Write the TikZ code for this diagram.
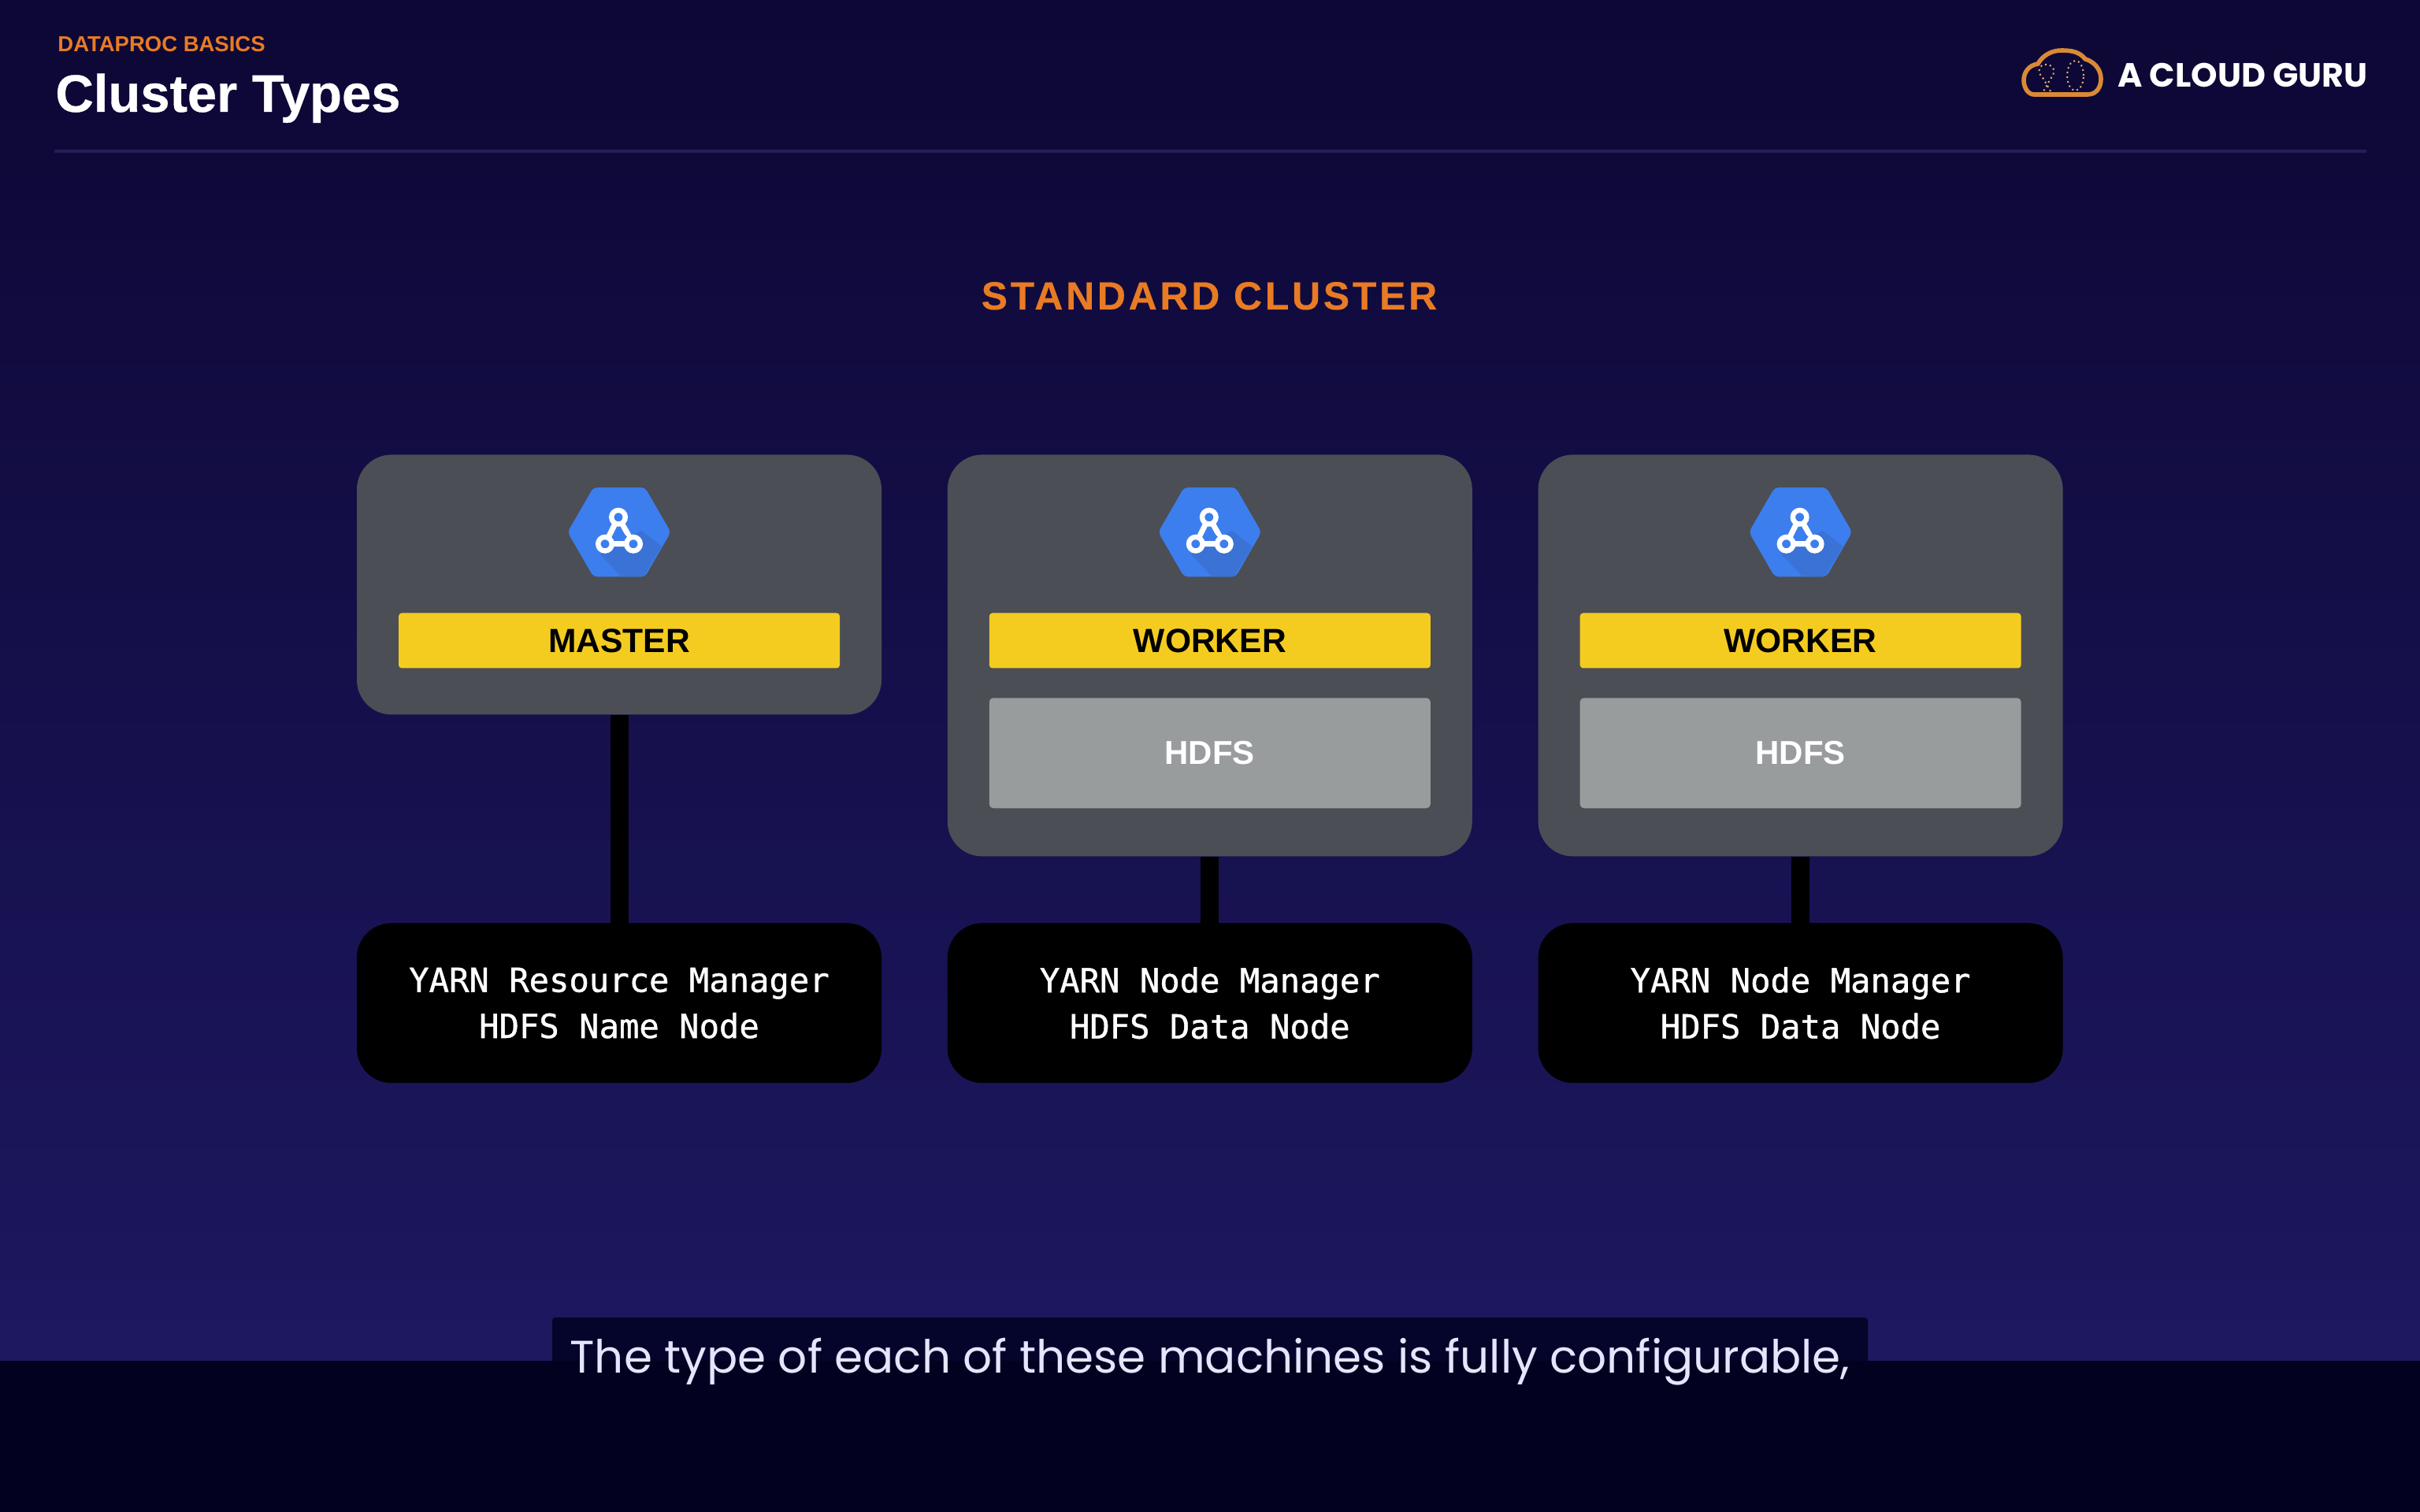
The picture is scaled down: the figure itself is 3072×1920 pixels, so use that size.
\documentclass[tikz,border=0pt]{standalone}
\usepackage{fontspec}
\usepackage{tikz}
\usetikzlibrary{positioning}
\usetikzlibrary{shapes.geometric}
\setmainfont{Liberation Sans}
\newfontfamily\monofont[FakeBold=1]{DejaVu Sans Mono}
\newfontfamily\spacedfont[LetterSpace=7.4,BoldFeatures={FakeBold=0.3}]{Liberation Sans}
\newfontfamily\titlefont[BoldFeatures={FakeBold=0.5}]{Liberation Sans}
\newfontfamily\logofont{Poppins}
\newfontfamily\capfont{Poppins}
\definecolor{bgtop}{HTML}{0D0735}
\definecolor{bgbot}{HTML}{1D1860}
\definecolor{rulecol}{HTML}{231E54}
\definecolor{stripcol}{HTML}{02011F}
\definecolor{barcol}{HTML}{05042A}
\definecolor{orangecol}{HTML}{E87B24}
\definecolor{logocol}{HTML}{D98A35}
\definecolor{cardcol}{HTML}{4B4E55}
\definecolor{yellowcol}{HTML}{F4CC20}
\definecolor{hdfscol}{HTML}{989C9C}
\definecolor{hexcol}{HTML}{3C7EEE}
\definecolor{hexdark}{HTML}{3A72D6}
\tikzset{
  card/.style={rectangle,fill=cardcol,rounded corners=22pt,minimum width=333pt,inner sep=0pt,anchor=north},
  mastercard/.style={card,minimum height=165pt},
  workercard/.style={card,minimum height=255pt},
  hexnode/.style={regular polygon,regular polygon sides=6,fill=hexcol,rounded corners=2.5pt,minimum size=65.5pt,inner sep=0pt,outer sep=0pt},
  rolebar/.style={rectangle,fill=yellowcol,rounded corners=2pt,minimum width=280pt,minimum height=35pt,inner sep=0pt,text=black,font=\fontsize{21.3}{24}\selectfont\bfseries},
  hdfsbox/.style={rectangle,fill=hdfscol,rounded corners=2.5pt,minimum width=280pt,minimum height=70pt,inner sep=0pt,text=white,font=\fontsize{21}{24}\selectfont\bfseries},
  infobox/.style={rectangle,fill=black,rounded corners=22pt,minimum width=333pt,minimum height=101.5pt,inner sep=0pt,text=white,align=center,font=\fontsize{21.1}{29.25}\monofont},
  wire/.style={draw=black,line width=11.5pt},
  pics/clustericon/.style={code={
    \fill[hexdark] (28,-2) -- (54,18) -- (31,56) -- (2,56) -- (-24,28) -- cycle;
    \draw[white,line width=3.5pt,line join=round] (-1,-19) -- (-18,15) -- (18,15) -- cycle;
    \fill[hexcol] (-2,-6) -- (-7,10) -- (12,8) -- cycle;
    \foreach \ringx/\ringy in {-1/-19,-18/15,18/15}
      \draw[white,line width=3.2pt,fill=hexcol] (\ringx,\ringy) circle (4.4pt);
  }}
}
\begin{document}
\begin{tikzpicture}[x=0.5pt,y=-0.5pt]
\useasboundingbox (0,0) rectangle (3072,1920);
\shade[top color=bgtop,bottom color=bgbot] (0,0) rectangle (3072,1728);
\draw[rulecol,line width=2pt] (69,192) -- (3004,192);
% header
\path node[anchor=base west,inner sep=0pt,text=orangecol,font=\fontsize{13.75}{16}\selectfont\bfseries] (topic) at (73,66) {DATAPROC BASICS};
\path node[anchor=base west,inner sep=0pt,text=white,font=\fontsize{33.5}{36}\titlefont\bfseries] (title) at (70,142) {Cluster Types};
\path node[anchor=base west,inner sep=0pt,text=white,font=\fontsize{21.3}{24}\logofont\bfseries] (brand) at (2688,111) {A CLOUD GURU};
% logo
\draw[logocol,line width=2.8pt] (2582,120) -- (2650,120) .. controls (2662,120) and (2667,110) .. (2667,100) .. controls (2667,88) and (2658,78) .. (2647,75) .. controls (2640,66) and (2630,64) .. (2617,64) .. controls (2605,64) and (2593,70) .. (2587,81) .. controls (2575,83) and (2569,92) .. (2569,102) .. controls (2569,112) and (2575,120) .. (2582,120) -- cycle;
\draw[logocol!70!white,line width=1pt,dotted] (2634.5,96) ellipse (5.2pt and 9.5pt);
\draw[logocol!70!white,line width=1pt,dotted] (2603,116) -- (2594,100) .. controls (2585,92) and (2588,82) .. (2597,82) .. controls (2608,82) and (2610,92) .. (2603,100) -- (2594,116);
% heading
\path node[text=orangecol,inner sep=0pt,anchor=base,font=\fontsize{25}{28}\spacedfont\bfseries] (heading) at (1535,393) {STANDARD CLUSTER};
% cards
\path node[mastercard] (mcard) at (786,577) {};
\path node[workercard,right=41.5pt of mcard.north east,anchor=north west] (wcarda) {};
\path node[workercard,right=41.5pt of wcarda.north east,anchor=north west] (wcardb) {};
% hexagons
\path node[hexnode,below=21pt of mcard.north] (mhex) {};
\path node[hexnode,below=21pt of wcarda.north] (wahex) {};
\path node[hexnode,below=21pt of wcardb.north] (wbhex) {};
\path (mhex.center) pic {clustericon};
\path (wahex.center) pic {clustericon};
\path (wbhex.center) pic {clustericon};
% labels
\path node[rolebar,below=22.8pt of mhex.south] (mrole) {MASTER};
\path node[rolebar,below=22.8pt of wahex.south] (warole) {WORKER};
\path node[rolebar,below=22.8pt of wbhex.south] (wbrole) {WORKER};
\path node[hdfsbox,below=18.5pt of warole] (wahdfs) {HDFS};
\path node[hdfsbox,below=18.5pt of wbrole] (wbhdfs) {HDFS};
% bottom boxes
\path node[infobox,below=132pt of mcard] (minfo) {YARN Resource Manager\\HDFS Name Node};
\path node[infobox,below=42pt of wcarda] (wainfo) {YARN Node Manager\\HDFS Data Node};
\path node[infobox,below=42pt of wcardb] (wbinfo) {YARN Node Manager\\HDFS Data Node};
\path[wire] (mcard) edge (minfo);
\path[wire] (wcarda) edge (wainfo);
\path[wire] (wcardb) edge (wbinfo);
% caption
\fill[barcol,rounded corners=2pt] (701,1673) rectangle (2371,1745);
\fill[stripcol] (0,1728) rectangle (3072,1920);
\path node[anchor=base,inner sep=0pt,text=white!90!blue,font=\fontsize{29}{34}\capfont] (caption) at (1536,1743) {The type of each of these machines is fully configurable,};
\end{tikzpicture}
\end{document}
